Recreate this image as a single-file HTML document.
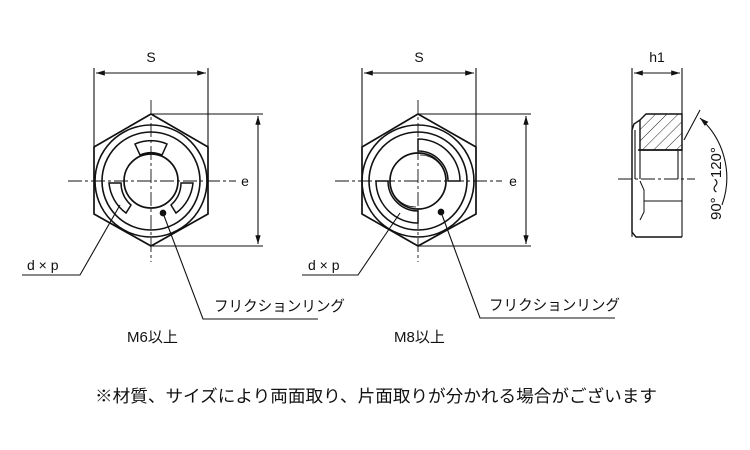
<!DOCTYPE html>
<html><head><meta charset="utf-8"><style>
html,body{margin:0;padding:0;background:#fff;}
svg{display:block;}
text{font-family:"Liberation Sans","Noto Sans CJK JP",sans-serif;fill:#111;}
</style></head><body>
<svg width="750" height="450" viewBox="0 0 750 450" xmlns="http://www.w3.org/2000/svg">
<defs>
<marker id="a" viewBox="0 0 10 10" refX="10" refY="5" markerWidth="8" markerHeight="8" orient="auto-start-reverse"><path d="M0,2 L10,5 L0,8 z" fill="#111"/></marker>
<pattern id="h" width="8" height="8" patternUnits="userSpaceOnUse" patternTransform="rotate(45)"><line x1="0" y1="0" x2="0" y2="8" stroke="#222" stroke-width="1"/></pattern>
</defs>
<g stroke="#111" fill="none" stroke-width="1.1">
<!-- left nut -->
<polygon points="151,114 208,147 208,214 151,246 94,214 94,147" stroke-width="1.7"/>
<circle cx="151" cy="181" r="56" stroke-width="1.6"/>
<circle cx="151" cy="181" r="49" stroke-width="1.6"/>
<circle cx="151" cy="181" r="27" stroke-width="1.7"/>
<path d="M135,144 A40,40 0 0 1 167,144 L162,155 A28,28 0 0 0 140,155 Z" stroke-width="1.5"/>
<path d="M109,183 L121,183 A30,30 0 0 0 131,205 L126,213 A42,42 0 0 1 109,183 Z" stroke-width="1.5"/>
<path d="M193,183 L181,183 A30,30 0 0 1 171,205 L176,213 A42,42 0 0 0 193,183 Z" stroke-width="1.5"/>
<circle cx="163" cy="213" r="2.8" fill="#111"/>
<!-- right nut -->
<polygon points="418,114 476,147 476,214 418,246 362,214 362,147" stroke-width="1.7"/>
<circle cx="418" cy="181" r="56" stroke-width="1.6"/>
<circle cx="418" cy="181" r="49" stroke-width="1.6"/>
<circle cx="418" cy="181" r="28" stroke-width="1.7"/>
<path d="M418,139 A42,42 0 0 1 460,181 L448,181 A30,30 0 0 0 418,151 Z" stroke-width="1.5"/>
<path d="M418,223 A42,42 0 0 1 376,181 L388,181 A30,30 0 0 0 418,211 Z" stroke-width="1.5"/>
<path d="M420,155 A26,26 0 0 1 446,179" stroke-width="0.8"/>
<path d="M416,207 A26,26 0 0 1 390,183" stroke-width="0.8"/>
<circle cx="441" cy="212" r="2.8" fill="#111"/>
<!-- center lines -->
<g stroke-dasharray="14,3,3,3" stroke-width="0.9">
<line x1="68" y1="181" x2="236" y2="181"/><line x1="151" y1="100" x2="151" y2="262"/>
<line x1="335" y1="181" x2="502" y2="181"/><line x1="418" y1="100" x2="418" y2="262"/>
<line x1="618" y1="179" x2="695" y2="179"/>
</g>
<!-- S dims -->
<line x1="94" y1="68" x2="94" y2="147"/><line x1="208" y1="68" x2="208" y2="147"/>
<line x1="96" y1="73" x2="206" y2="73" marker-start="url(#a)" marker-end="url(#a)"/>
<line x1="362" y1="68" x2="362" y2="147"/><line x1="476" y1="68" x2="476" y2="147"/>
<line x1="364" y1="73" x2="474" y2="73" marker-start="url(#a)" marker-end="url(#a)"/>
<!-- e dims -->
<line x1="151" y1="114" x2="263" y2="114"/><line x1="151" y1="246" x2="263" y2="246"/>
<line x1="258" y1="116" x2="258" y2="244" marker-start="url(#a)" marker-end="url(#a)"/>
<line x1="418" y1="114" x2="531" y2="114"/><line x1="418" y1="246" x2="531" y2="246"/>
<line x1="526" y1="116" x2="526" y2="244" marker-start="url(#a)" marker-end="url(#a)"/>
<!-- leaders -->
<polyline points="22,275 80,275 120,205"/>
<polyline points="163,213 203,319 318,319"/>
<polyline points="302,275 358,275 400,213"/>
<polyline points="441,212 480,318 615,318"/>
<!-- side view -->
<line x1="632" y1="68" x2="632" y2="237"/><line x1="682" y1="68" x2="682" y2="237"/>
<line x1="634" y1="73" x2="680" y2="73" marker-start="url(#a)" marker-end="url(#a)"/>
<path d="M640,150 L640,120 L646,114 L682,114 L682,150 Z" fill="url(#h)" stroke-width="1.4"/>
<line x1="638" y1="150" x2="682" y2="150" stroke-width="1.4"/>
<line x1="640" y1="150" x2="640" y2="179"/><line x1="678" y1="150" x2="678" y2="179"/>
<path d="M640,120 L634,124 L632,130 L632,232 L636,237 L682,237" stroke-width="1.4"/>
<line x1="635" y1="130" x2="635" y2="179"/>
<path d="M640,181 L644,190 L644,212 L640,220" stroke-width="1"/>
<line x1="644" y1="201" x2="682" y2="201"/>
<line x1="684" y1="140" x2="700" y2="110"/>
<path d="M700,118 A80,80 0 0 1 722,205" marker-start="url(#a)"/>
</g>
<text x="151" y="62" font-size="14" text-anchor="middle">S</text>
<text x="419" y="62" font-size="14" text-anchor="middle">S</text>
<text x="657" y="62" font-size="14" text-anchor="middle">h1</text>
<text x="245" y="186" font-size="14" text-anchor="middle">e</text>
<text x="513" y="186" font-size="14" text-anchor="middle">e</text>
<text x="27" y="270" font-size="14">d × p</text>
<text x="308" y="270" font-size="14">d × p</text>
<text x="214" y="311" font-size="15" textLength="131" lengthAdjust="spacingAndGlyphs">フリクションリング</text>
<text x="489" y="310" font-size="15" textLength="131" lengthAdjust="spacingAndGlyphs">フリクションリング</text>
<text x="127" y="342" font-size="15">M6以上</text>
<text x="394" y="342" font-size="15">M8以上</text>
<text transform="translate(721,220) rotate(-90)" font-size="15">90° ～120°</text>
<text x="95" y="402" font-size="17" textLength="562" lengthAdjust="spacingAndGlyphs">※材質、サイズにより両面取り、片面取りが分かれる場合がございます</text>
</svg>
</body></html>
